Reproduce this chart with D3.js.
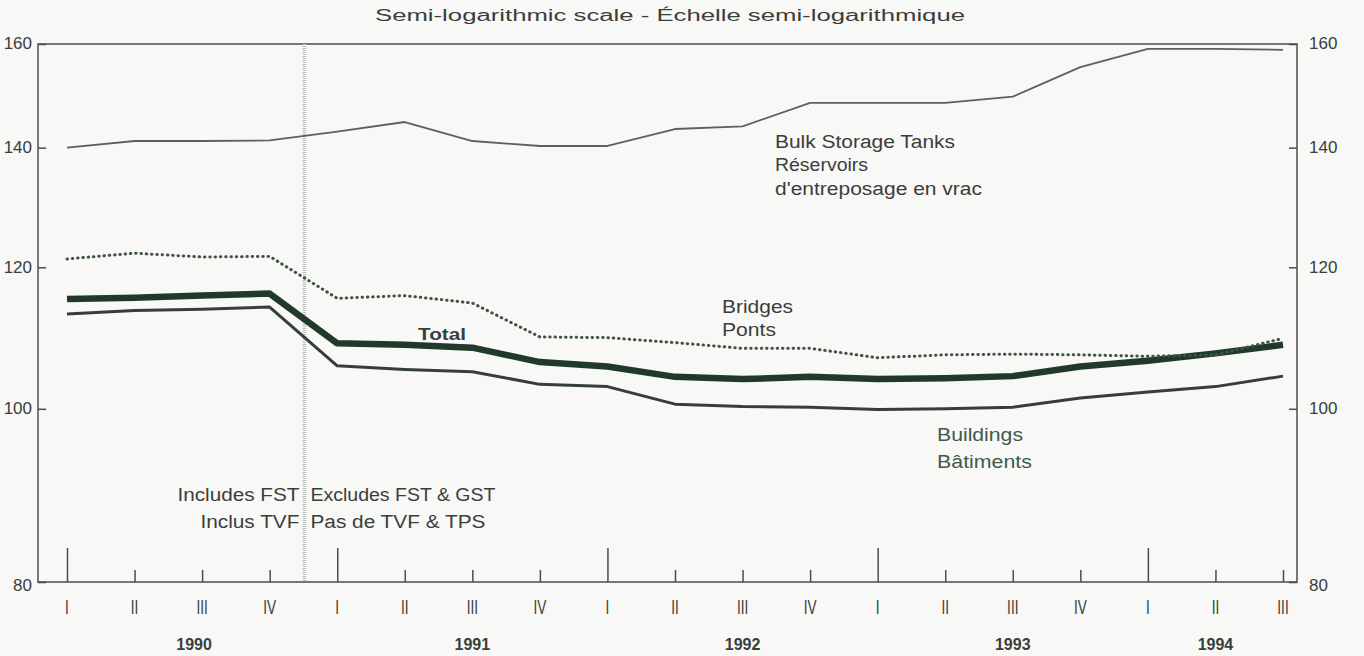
<!DOCTYPE html>
<html>
<head>
<meta charset="utf-8">
<script src="https://cdn.jsdelivr.net/npm/d3@7"></script>
<style>
  html, body { margin: 0; padding: 0; background: #f8f8f6; }
  svg { display: block; font-family: "Liberation Sans", Arial, sans-serif; }
</style>
</head>
<body>
<svg id="chart" width="1364" height="656"></svg>
<script>
// ---- Data ----
const quarters = ["I","II","III","IV","I","II","III","IV","I","II","III","IV","I","II","III","IV","I","II","III"];
const years = ["1990","1991","1992","1993","1994"];
const yearOf = [1990,1990,1990,1990,1991,1991,1991,1991,1992,1992,1992,1992,1993,1993,1993,1993,1994,1994,1994];
const yTicks = [80, 100, 120, 140, 160];

const bulkStorage = [140.0,141.2,141.2,141.3,142.9,144.7,141.2,140.3,140.3,143.4,143.9,148.3,148.3,148.3,149.5,155.3,159.0,159.0,158.8];
const bridges     = [121.3,122.2,121.6,121.7,115.3,115.7,114.6,109.7,109.6,108.9,108.1,108.1,106.8,107.2,107.3,107.2,107.0,107.2,109.5];
const total       = [115.2,115.4,115.7,116.0,108.8,108.6,108.2,106.2,105.6,104.2,103.9,104.2,103.9,104.0,104.3,105.6,106.4,107.4,108.6];
const buildings   = [113.0,113.5,113.7,114.0,105.7,105.2,104.9,103.2,102.9,100.6,100.3,100.2, 99.9,100.0,100.2,101.4,102.2,102.9,104.3];

// ---- Layout ----
const svg = d3.select("#chart");
const mLeft = 38, mRight = 1297, mTop = 44, mBottom = 582;
const ink = "#3a3e3b";

const x = d3.scalePoint().domain(d3.range(quarters.length)).range([67, 1283]);
const y = d3.scaleLog().domain([80, 160]).range([mBottom, mTop]);

// frame
svg.append("rect").attr("x", mLeft).attr("y", mTop).attr("width", mRight - mLeft).attr("height", mBottom - mTop)
  .attr("fill", "none").attr("stroke", "#4a4d4a").attr("stroke-width", 1.5);

// y axes
const yl = svg.append("g").attr("transform", `translate(${mLeft},0)`)
  .call(d3.axisRight(y).tickValues(yTicks).tickSize(8).tickFormat(""));
const yr = svg.append("g").attr("transform", `translate(${mRight},0)`)
  .call(d3.axisLeft(y).tickValues(yTicks).tickSize(8).tickFormat(""));
[yl, yr].forEach(g => { g.select(".domain").remove(); g.selectAll("line").attr("stroke", "#4a4d4a").attr("stroke-width", 1.5); });

yTicks.forEach(v => {
  svg.append("text").attr("x", 32).attr("y", y(v) + (v === 80 ? 5 : 1)).attr("text-anchor", "end")
    .attr("dominant-baseline", "middle").attr("font-size", 17).attr("fill", ink).text(v);
  svg.append("text").attr("x", 1309).attr("y", y(v) + (v === 80 ? 5 : 1)).attr("text-anchor", "start")
    .attr("dominant-baseline", "middle").attr("font-size", 17).attr("fill", ink).text(v);
});

// x ticks
const xa = svg.append("g").attr("transform", `translate(0,${mBottom})`)
  .call(d3.axisTop(x).tickSizeInner(0).tickSizeOuter(0).tickFormat(""));
xa.select(".domain").remove();
xa.selectAll(".tick line")
  .attr("y2", (d, i) => quarters[i] === "I" ? -34 : -12)
  .attr("stroke", "#4a4d4a").attr("stroke-width", 1.5);

// quarter labels
svg.append("g").selectAll("text").data(quarters).join("text")
  .attr("x", (d, i) => x(i)).attr("y", 614).attr("text-anchor", "middle")
  .attr("font-size", 20).attr("fill", ink)
  .attr("transform", (d, i) => `translate(${x(i)},614) scale(0.68,1) translate(${-x(i)},-614)`)
  .text(d => d);

// year labels (centered on each year's span)
years.forEach((yv, k) => {
  const idx = yearOf.map((v, i) => v === +yv ? i : -1).filter(i => i >= 0);
  const a = x(idx[0]);
  const last = idx[idx.length - 1];
  const b = last + 1 < quarters.length ? x(last + 1) : x(last);
  svg.append("text").attr("x", (a + b) / 2 - (k === 0 ? 8 : 0)).attr("y", 650).attr("text-anchor", "middle")
    .attr("font-size", 16).attr("font-weight", "bold").attr("fill", ink).text(yv);
});

// tax-change divider
const divX = (x(3) + x(4)) / 2 + 1;
svg.append("line").attr("x1", divX).attr("x2", divX).attr("y1", mTop).attr("y2", mBottom)
  .attr("stroke", "#b9bcb9").attr("stroke-width", 3.5).attr("stroke-dasharray", "1,1");

// lines
const line = d3.line().x((d, i) => x(i)).y(d => y(d));
svg.append("path").datum(bulkStorage).attr("d", line).attr("fill", "none")
  .attr("stroke", "#58635d").attr("stroke-width", 1.8).attr("stroke-linejoin", "round");
svg.append("path").datum(buildings).attr("d", line).attr("fill", "none")
  .attr("stroke", "#353f39").attr("stroke-width", 3).attr("stroke-linejoin", "round");
svg.append("path").datum(total).attr("d", line).attr("fill", "none")
  .attr("stroke", "#21392a").attr("stroke-width", 6.5).attr("stroke-linejoin", "round");
svg.append("path").datum(bridges).attr("d", line).attr("fill", "none")
  .attr("stroke", "#3e5546").attr("stroke-width", 3).attr("stroke-linecap", "round")
  .attr("stroke-dasharray", "0.5,4.8");

// annotations (widths matched to the reference)
const ann = (tx, ty, s, w, opts = {}) => {
  const t = svg.append("text").attr("x", tx).attr("y", ty)
    .attr("font-size", opts.size || 18).attr("fill", opts.fill || ink)
    .attr("font-weight", opts.bold ? "bold" : "normal")
    .attr("text-anchor", opts.anchor || "start").text(s);
  if (w) t.attr("textLength", w).attr("lengthAdjust", "spacingAndGlyphs");
  return t;
};

ann(670, 21, "Semi-logarithmic scale - Échelle semi-logarithmique", 590, { anchor: "middle", size: 16 });
ann(775, 148, "Bulk Storage Tanks", 180);
ann(775, 171, "Réservoirs", 93);
ann(775, 195, "d'entreposage en vrac", 207);
ann(722, 313, "Bridges", 71);
ann(722, 336, "Ponts", 54);
ann(418, 340, "Total", 48, { bold: true, size: 17 });
ann(937, 441, "Buildings", 86, { fill: "#3f5a4a" });
ann(937, 468, "Bâtiments", 95, { fill: "#3f5a4a" });
ann(divX - 5, 501, "Includes FST", 122, { anchor: "end" });
ann(divX + 6, 501, "Excludes FST & GST", 185);
ann(divX - 5, 528, "Inclus TVF", 99, { anchor: "end" });
ann(divX + 6, 528, "Pas de TVF & TPS", 175);
</script>
</body>
</html>
